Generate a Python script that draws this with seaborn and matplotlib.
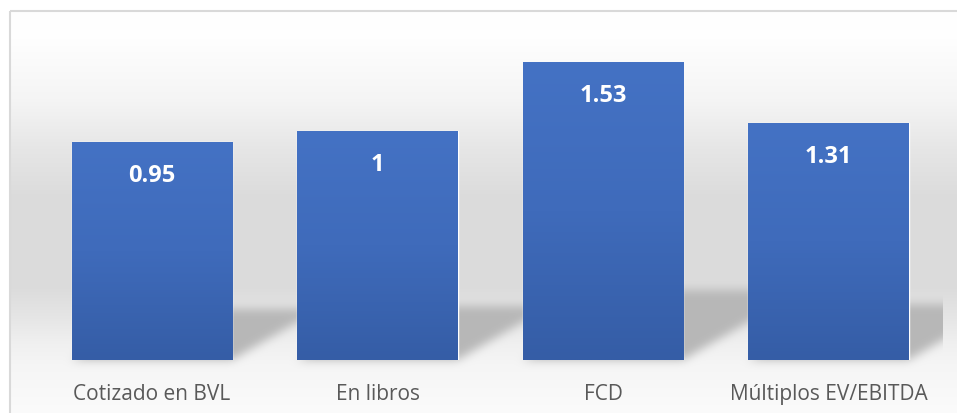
import numpy as np
import seaborn as sns
import matplotlib.pyplot as plt
from matplotlib.colors import LinearSegmentedColormap
from matplotlib.patches import Rectangle

categories = ['Cotizado en BVL', 'En libros', 'FCD', 'Múltiplos EV/EBITDA']
bar_heights = [0.95, 1.00, 1.30, 1.035]      # bar heights as drawn
value_labels = [0.95, 1, 1.53, 1.31]         # data labels as printed

W, H = 957, 414
sns.set_theme(style='white')
plt.rcParams['font.family'] = ['Open Sans', 'DejaVu Sans']

fig = plt.figure(figsize=(W / 100, H / 100), dpi=100)
bg_ax = fig.add_axes([0, 0, 1, 1], zorder=0)
ax = fig.add_axes([39.25 / W, 53.3 / H, 902 / W, 332 / H], zorder=1)
ax.patch.set_alpha(0)

sns.barplot(x=categories, y=bar_heights, ax=ax, width=0.71, color='#4472C4', saturation=1)
ax.set_xlim(-0.5, 3.5)
ax.set_ylim(0, 1.45)


def box_blur(a, r, axis):
    pad = [(0, 0), (0, 0)]
    pad[axis] = (r + 1, r)
    c = np.cumsum(np.pad(a, pad, mode='edge'), axis=axis)
    n = a.shape[axis]
    return (np.take(c, range(2 * r + 1, 2 * r + 1 + n), axis=axis)
            - np.take(c, range(0, n), axis=axis)) / (2 * r + 1)


# background gradient (pixel rows, grey level)
stops_y = [0, 40, 100, 150, 200, 290, 320, 345, 365, 414]
stops_v = [255, 254, 245, 230, 219, 220, 230, 240, 245, 251]
yy, xx = np.mgrid[0:H, 0:W] + 0.5
bg = np.interp(yy, stops_y, stops_v) / 255.0

# cast shadows behind the bars
mask = np.zeros((H, W))
for p in ax.patches:
    x, w, h = p.get_x(), p.get_width(), p.get_height()
    px0, pyb = ax.transData.transform((x, 0))
    px1, pyt = ax.transData.transform((x + w, h))
    yb, yt = H - pyb, H - pyt
    sh = 0.235 * (yb - yt)
    dx = sh / 0.58
    t = (yb - yy) / sh
    inside = (t >= 0) & (t <= 1) & (xx >= px0 + dx * t) & (xx <= px1 + dx * t)
    mask[inside] = 1.0
for _ in range(3):
    mask = box_blur(mask, 4, 0)
    mask = box_blur(mask, 4, 1)
right_edge = ax.transData.transform((3.5, 0))[0] + 2
mask[:, xx[0] > right_edge] = 0
bg = bg * (1 - mask) + mask * 0.72
bg[:11, :] = 1.0
bg[:, :9] = 1.0

bg_ax.imshow(np.dstack([bg] * 3), extent=[0, W, H, 0], interpolation='none', aspect='auto')
bg_ax.set_xlim(0, W)
bg_ax.set_ylim(H, 0)
bg_ax.axis('off')
bg_ax.add_patch(Rectangle((9.5, 11.5), W, H, fill=False, ec='#d9d9d9', lw=1.5))

# gradient fill on the bars
cmap = LinearSegmentedColormap.from_list('bar', ['#4472C4', '#3F6BBB', '#355DA6'])
grad = np.linspace(0, 1, 256).reshape(-1, 1)
for p, v in zip(ax.patches, value_labels):
    x, w, h = p.get_x(), p.get_width(), p.get_height()
    im = ax.imshow(grad, extent=[x, x + w, 0, h], aspect='auto', cmap=cmap,
                   interpolation='bilinear', zorder=p.get_zorder() + 0.1)
    im.set_clip_path(p)
    ax.annotate(f'{v:g}', (x + w / 2, h), xytext=(0, -39), textcoords='offset pixels',
                ha='center', va='baseline', color='white', fontsize=17,
                fontweight='bold', zorder=5)

ax.set_xlim(-0.5, 3.5)
ax.set_ylim(0, 1.45)
ax.set_yticks([])
ax.set_ylabel('')
ax.set_xlabel('')
sns.despine(ax=ax, left=True, bottom=True)
ax.tick_params(axis='x', length=0, pad=28.1, labelsize=15, labelcolor='#595959')
plt.setp(ax.get_xticklabels(), va='baseline')

fig.savefig('out.png', dpi=100)
